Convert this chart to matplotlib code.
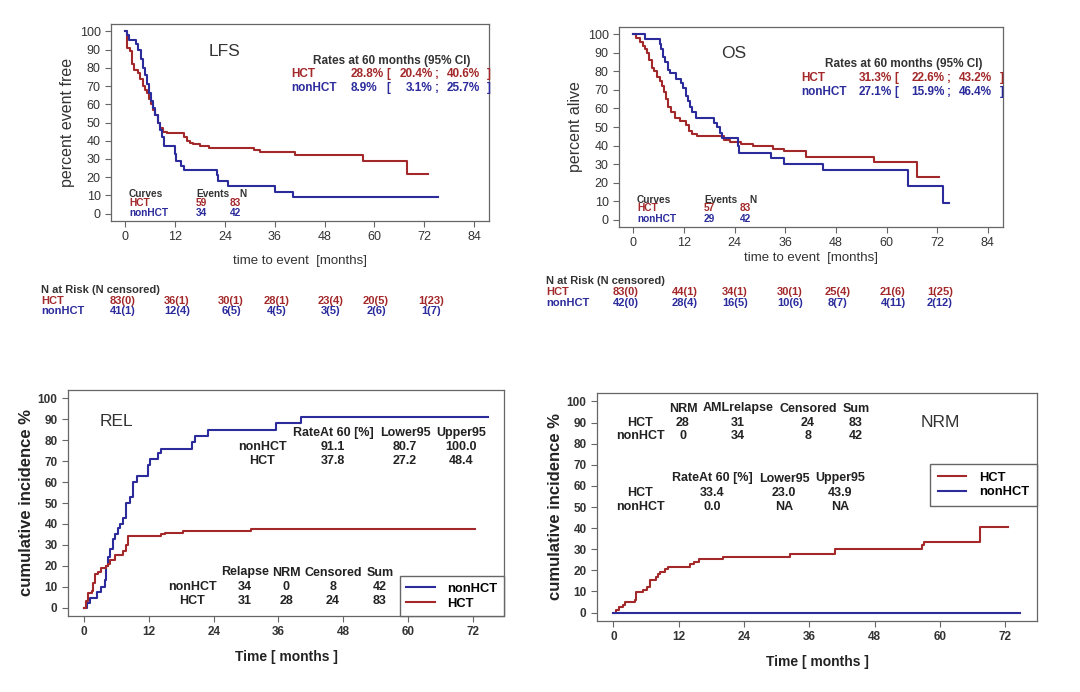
import numpy as np
import matplotlib
matplotlib.use("Agg")
import matplotlib.pyplot as plt
from matplotlib.lines import Line2D

plt.rcParams['font.family'] = ['Liberation Sans', 'DejaVu Sans']

RED = '#a3282a'
BLUE = '#2b2b9c'
GRAY = '#666666'
TXT = '#333333'

# --- data ---
lfs_hct_t = [0, 0.5, 1.2, 1.6, 2.2, 3.0, 3.6, 4.2, 4.8, 5.3, 5.8, 6.3, 6.8, 7.3, 7.8, 8.4, 9.0, 10.0,
             14.2, 14.8, 15.6, 16.4, 18.0, 20.3, 31.0, 32.4, 41.0, 57.3, 67.9, 73.0]
lfs_hct_s = [100, 91, 89, 82, 79, 77, 74, 70, 68, 66, 63, 60, 57, 54, 50, 47, 45, 44,
             42, 40, 39, 38, 37, 36, 35, 34, 32, 29, 22, 22]
lfs_non_t = [0, 0.5, 1.0, 2.7, 3.2, 3.8, 4.3, 4.8, 5.3, 5.8, 6.3, 6.8, 7.3, 7.8, 8.3, 8.8, 9.4,
             11.9, 12.2, 13.5, 14.2, 22.0, 22.4, 24.8, 36.0, 40.5, 75.3]
lfs_non_s = [100, 98, 95, 93, 90, 85, 80, 76, 71, 66, 62, 58, 54, 50, 46, 42, 37,
             33, 29, 26, 24, 21, 18, 15, 12, 9, 9]

os_hct_t = [0, 0.7, 1.5, 2.2, 2.8, 3.2, 3.8, 4.4, 5.0, 5.5, 6.2, 6.8, 7.3, 7.8, 8.3, 9.0, 9.8,
            11.0, 12.5, 13.3, 14.0, 15.0, 21.6, 22.8, 25.5, 28.3, 33.0, 35.8, 40.9, 57.1, 67.3, 72.5]
os_hct_s = [100, 98, 96, 94, 92, 90, 86, 82, 80, 77, 75, 72, 69, 65, 61, 58, 55,
            53, 51, 48, 46, 45, 43, 42, 41, 40, 38, 37, 34, 31, 23, 23]
os_non_t = [0, 2.7, 6.2, 6.6, 7.1, 7.6, 8.2, 8.8, 10.2, 11.2, 11.8, 12.4, 12.9, 13.4, 14.0, 14.8,
            19.2, 19.9, 20.5, 21.1, 24.8, 25.0, 32.6, 35.8, 44.9, 65.0, 73.3, 74.8]
os_non_s = [100, 97.6, 95, 92, 88, 85, 81, 79, 76, 74, 71, 67, 64, 61, 58, 55,
            52, 50, 47, 44, 40, 36, 33, 30, 27, 18, 9, 9]

rel_non_t = [0, 0.5, 1.0, 2.3, 3.2, 3.8, 4.1, 4.4, 4.8, 5.4, 5.7, 6.2, 6.6, 7.2, 7.8, 8.5, 9.1, 9.7,
             11.8, 12.2, 13.7, 14.3, 19.9, 20.5, 23.0, 35.6, 40.2, 74.8]
rel_non_s = [0, 2.4, 4.8, 7.6, 10, 13, 20, 24, 28, 33, 35, 38, 40, 43, 50, 53, 60, 63,
             68, 71, 74, 76, 79, 82, 85, 88, 91.1, 91.1]
rel_hct_t = [0, 0.3, 0.7, 1.4, 1.7, 2.0, 2.5, 3.2, 4.1, 4.4, 4.8, 5.7, 7.2, 7.8, 8.1, 14.3, 14.9,
             18.3, 31.0, 72.5]
rel_hct_s = [0, 3, 7, 8, 12, 16, 17, 19, 20, 21, 23, 25, 27, 30, 34, 35, 35.6,
             36.6, 37.8, 37.8]

nrm_hct_t = [0, 0.55, 1.0, 1.8, 2.1, 3.9, 4.2, 5.4, 6.1, 6.7, 7.9, 8.2, 8.5, 9.4, 10.0, 14.0, 14.9,
             15.8, 20.1, 32.4, 40.7, 56.7, 57.1, 67.3, 72.4]
nrm_hct_s = [0, 1.2, 2.4, 3.6, 4.8, 6.0, 9.6, 10.8, 12.0, 15.6, 16.8, 18.1, 19.3, 20.5, 21.7, 22.9, 24.1,
             25.3, 26.5, 27.7, 30.2, 32.0, 33.4, 40.6, 40.6]
nrm_non_t = [0, 74.6]
nrm_non_s = [0, 0]

groups = ['HCT', 'nonHCT']
lfs_rate = [['28.8%', '20.4%', '40.6%'], ['8.9%', '3.1%', '25.7%']]
os_rate = [['31.3%', '22.6%', '43.2%'], ['27.1%', '15.9%', '46.4%']]
lfs_events = [['59', '83'], ['34', '42']]
os_events = [['57', '83'], ['29', '42']]
lfs_risk = [['83(0)', '36(1)', '30(1)', '28(1)', '23(4)', '20(5)', '1(23)'],
            ['41(1)', '12(4)', '6(5)', '4(5)', '3(5)', '2(6)', '1(7)']]
os_risk = [['83(0)', '44(1)', '34(1)', '30(1)', '25(4)', '21(6)', '1(25)'],
           ['42(0)', '28(4)', '16(5)', '10(6)', '8(7)', '4(11)', '2(12)']]
rel_counts = [['34', '0', '8', '42'], ['31', '28', '24', '83']]      # nonHCT, HCT
rel_rates = [['91.1', '80.7', '100.0'], ['37.8', '27.2', '48.4']]
nrm_counts = [['28', '31', '24', '83'], ['0', '34', '8', '42']]      # HCT, nonHCT
nrm_rates = [['33.4', '23.0', '43.9'], ['0.0', 'NA', 'NA']]

W, H = 1080, 692
fig = plt.figure(figsize=(W / 100, H / 100), dpi=100)


def pt(x, y, s, **kw):
    kw.setdefault('va', 'center')
    kw.setdefault('color', TXT)
    fig.text(x / W, 1 - y / H, s, **kw)


def make_ax(l, t, r, b, xmax, bold):
    ax = fig.add_axes([l / W, 1 - b / H, (r - l) / W, (b - t) / H])
    for sp in ax.spines.values():
        sp.set_color(GRAY)
        sp.set_linewidth(0.9)
    ax.set_ylim(-4, 104)
    ax.set_yticks(range(0, 101, 10))
    ax.set_xticks(range(0, xmax + 1, 12))
    ax.tick_params(colors=GRAY, labelcolor=TXT, length=4, width=0.8,
                   labelsize=9 if not bold else 8.5)
    if bold:
        for lab in ax.get_xticklabels() + ax.get_yticklabels():
            lab.set_fontweight('bold')
    return ax


# ---------------- LFS ----------------
ax1 = make_ax(111, 24, 489, 221, 84, False)
ax1.set_xlim(-3.4, 87.6)
ax1.step(lfs_hct_t, lfs_hct_s, where='post', color=RED, lw=1.5)
ax1.step(lfs_non_t, lfs_non_s, where='post', color=BLUE, lw=1.5)
ax1.set_xlabel('time to event  [months]', fontsize=9.5, color=TXT, labelpad=8)
ax1.set_ylabel('percent event free', fontsize=11.5, color=TXT, labelpad=3)
pt(225, 52, 'LFS', fontsize=12.5, ha='center')

# ---------------- OS ----------------
ax2 = make_ax(619, 27, 1003, 227, 84, False)
ax2.set_xlim(-3.4, 87.6)
ax2.step(os_hct_t, os_hct_s, where='post', color=RED, lw=1.5)
ax2.step(os_non_t, os_non_s, where='post', color=BLUE, lw=1.5)
ax2.set_xlabel('time to event  [months]', fontsize=9.5, color=TXT, labelpad=2)
ax2.set_ylabel('percent alive', fontsize=11.5, color=TXT, labelpad=3)
pt(734, 54, 'OS', fontsize=12.5, ha='center')

tb = dict(fontsize=8.5, fontweight='bold')
rk = dict(fontsize=8, fontweight='bold')
sm = dict(fontsize=7.3, fontweight='bold')
cols = [RED, BLUE]

# rate boxes
for (xc, y0, dy, xl, xr, xb1, xlo, xsc, xup, xb2, rates) in [
        (392, 61, [74, 88], 291, 351, 386, 433, 437, 480, 487, lfs_rate),
        (904, 64, [78, 92], 801, 859, 894, 945, 949, 992, 1000, os_rate)]:
    pt(xc, y0, 'Rates at 60 months (95% CI)', ha='center', **tb)
    for i, g in enumerate(groups):
        c = cols[i]
        y = dy[i]
        pt(xl, y, g, ha='left', color=c, **tb)
        pt(xr, y, rates[i][0], ha='left', color=c, **tb)
        pt(xb1, y, '[', ha='left', color=c, **tb)
        pt(xlo, y, rates[i][1], ha='right', color=c, **tb)
        pt(xsc, y, ';', ha='center', color=c, **tb)
        pt(xup, y, rates[i][2], ha='right', color=c, **tb)
        pt(xb2, y, ']', ha='left', color=c, **tb)

# curves / events tables
for (xl, xe, xn, ys, ev) in [(129, 196, 230, [194, 203, 212.5], lfs_events),
                              (637, 704, 740, [200, 208.5, 218.5], os_events)]:
    pt(xl, ys[0], 'Curves', ha='left', **sm)
    pt(xe, ys[0], 'Events', ha='left', **sm)
    pt(xn + 9, ys[0], 'N', ha='left', **sm)
    for i, g in enumerate(groups):
        pt(xl, ys[i + 1], g, ha='left', color=cols[i], **sm)
        pt(xe, ys[i + 1], ev[i][0], ha='left', color=cols[i], **sm)
        pt(xn, ys[i + 1], ev[i][1], ha='left', color=cols[i], **sm)

# N at risk tables
lfs_cols = [123, 177, 231, 277, 331, 376, 431]
os_cols = [626, 685, 735, 790, 838, 893, 940]
for (xl, ys, cx, risk) in [(41, [290, 301, 311.5], lfs_cols, lfs_risk),
                          (546, [281.5, 292.5, 303], os_cols, os_risk)]:
    pt(xl, ys[0], 'N at Risk (N censored)', ha='left', **rk)
    for i, g in enumerate(groups):
        pt(xl, ys[i + 1], g, ha='left', color=cols[i], **rk)
        for x, v in zip(cx, risk[i]):
            pt(x, ys[i + 1], v, ha='center', color=cols[i], **rk)

# ---------------- REL ----------------
bt = dict(fontsize=9, fontweight='bold', color='#222222')
ax3 = make_ax(68, 390, 504, 616, 72, True)
ax3.set_xlim(-3.0, 77.8)
ax3.step(rel_non_t, rel_non_s, where='post', color=BLUE, lw=1.5)
ax3.step(rel_hct_t, rel_hct_s, where='post', color=RED, lw=1.5)
ax3.set_xlabel('Time [ months ]', fontsize=10, fontweight='bold', color='#222222', labelpad=8)
ax3.set_ylabel('cumulative incidence %', fontsize=12, fontweight='bold', color='#222222', labelpad=3)
pt(100, 421, 'REL', fontsize=12.5, ha='left')
ax3.legend(handles=[Line2D([], [], color=BLUE, lw=1.5), Line2D([], [], color=RED, lw=1.5)],
           labels=['nonHCT', 'HCT'], loc='lower right', bbox_to_anchor=(1.0, 0.0),
           borderaxespad=0, fancybox=False, edgecolor=GRAY, framealpha=1,
           prop=dict(weight='bold', size=9.3), handlelength=2.2, labelspacing=0.2,
           borderpad=0.5, handletextpad=1.0)

rel_hdr = ['RateAt 60 [%]', 'Lower95', 'Upper95']
for x, h in zip([333, 405, 461], rel_hdr):
    pt(x, 433.5, h, ha='center', **bt)
for i, g in enumerate(['nonHCT', 'HCT']):
    y = [447.5, 461.5][i]
    pt(262, y, g, ha='center', **bt)
    for x, v in zip([333, 405, 461], rel_rates[i]):
        pt(x, y, v, ha='center', **bt)
for x, h in zip([245, 286, 333, 380], ['Relapse', 'NRM', 'Censored', 'Sum']):
    pt(x, 572.5, h, ha='center', **bt)
for i, g in enumerate(['nonHCT', 'HCT']):
    y = [587, 601][i]
    pt(192, y, g, ha='center', **bt)
    for x, v in zip([245, 286, 333, 380], rel_counts[i]):
        pt(x, y, v, ha='center', **bt)

# ---------------- NRM ----------------
ax4 = make_ax(597, 393, 1037, 621, 72, True)
ax4.set_xlim(-3.0, 77.8)
ax4.step(nrm_hct_t, nrm_hct_s, where='post', color=RED, lw=1.5)
ax4.step(nrm_non_t, nrm_non_s, where='post', color=BLUE, lw=1.5)
ax4.set_xlabel('Time [ months ]', fontsize=10, fontweight='bold', color='#222222', labelpad=8)
ax4.set_ylabel('cumulative incidence %', fontsize=12, fontweight='bold', color='#222222', labelpad=3)
pt(940, 423, 'NRM', fontsize=12.5, ha='center')
ax4.legend(handles=[Line2D([], [], color=RED, lw=1.5), Line2D([], [], color=BLUE, lw=1.5)],
           labels=['HCT', 'nonHCT'], loc='upper right', bbox_to_anchor=(1.0, 0.689),
           borderaxespad=0, fancybox=False, edgecolor=GRAY, framealpha=1,
           prop=dict(weight='bold', size=9.3), handlelength=2.2, labelspacing=0.2,
           borderpad=0.6, handletextpad=1.0)

for x, h in zip([683, 738, 808, 856], ['NRM', 'AMLrelapse', 'Censored', 'Sum']):
    pt(x, 408.5, h, ha='center', **bt)
for i, g in enumerate(groups):
    y = [422.5, 436][i]
    pt(640, y, g, ha='center', **bt)
    for x, v in zip([683, 738, 808, 856], nrm_counts[i]):
        pt(x, y, v, ha='center', **bt)
for x, h in zip([712, 784, 840], rel_hdr):
    pt(x, 478.5, h, ha='center', **bt)
for i, g in enumerate(groups):
    y = [493.5, 507.5][i]
    pt(640, y, g, ha='center', **bt)
    for x, v in zip([712, 784, 840], nrm_rates[i]):
        pt(x, y, v, ha='center', **bt)

fig.savefig('out.png', dpi=100)
